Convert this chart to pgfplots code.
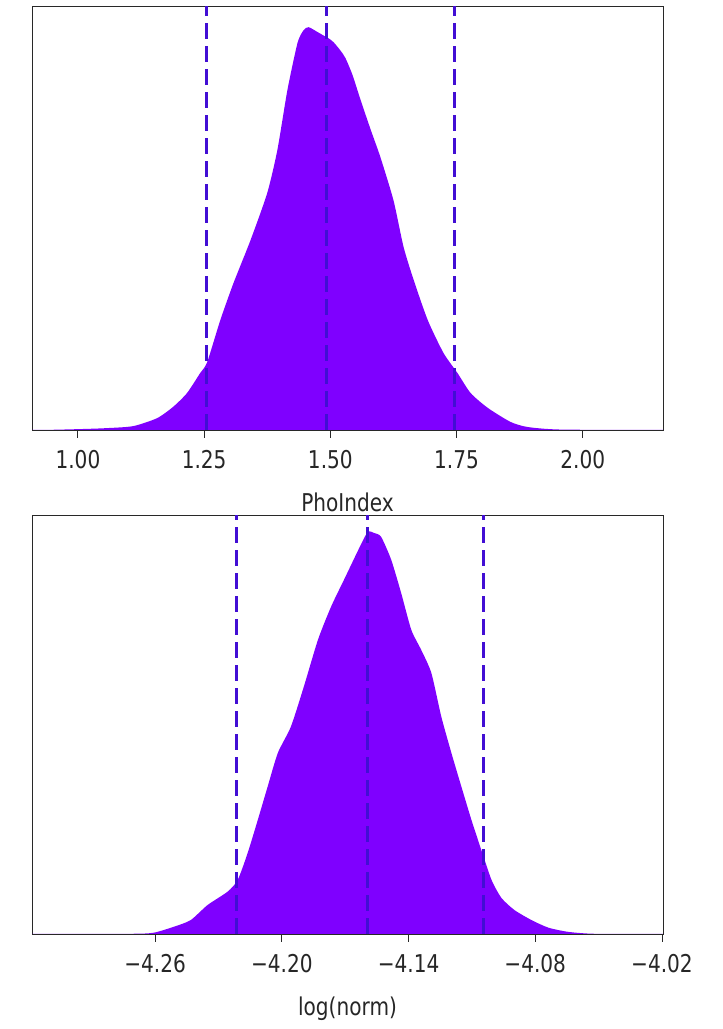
\documentclass[border=0pt]{standalone}
\usepackage{fontspec}
\setmainfont{DejaVu Sans}[FakeStretch=0.82]
\usepackage{pgfplots}
\pgfplotsset{compat=1.18}
\definecolor{fillv}{RGB}{127,0,255}
\definecolor{dashv}{RGB}{66,14,212}
\definecolor{framec}{RGB}{40,40,40}
\begin{document}
\begin{tikzpicture}[x=1bp,y=1bp]
\path (0,0) rectangle (723,1029);
\pgfplotsset{
  myax/.style={
    scale only axis, anchor=south west,
    width=631bp,
    ymin=0, ymax=1, ytick=\empty,
    axis line style={framec, line width=0.9bp},
    xtick pos=bottom, tick align=outside,
    major tick length=8bp,
    tick style={framec, line width=0.9bp},
    ticklabel style={font=\fontsize{24.5bp}{29bp}\selectfont, text=black!85},
    xticklabel style={yshift=-9bp},
    label style={font=\fontsize{24.5bp}{29bp}\selectfont, text=black!85},
    xlabel style={yshift=-17bp},
    clip=true,
  },
  dl/.style={dashv, line width=3bp, dash pattern=on 16bp off 7bp},
}
% Top axis
\begin{axis}[myax, at={(32bp,599bp)}, height=424bp,
  xmin=0.909, xmax=2.159,
  xtick={1,1.25,1.5,1.75,2}, xticklabels={1.00,1.25,1.50,1.75,2.00},
  xlabel={PhoIndex}]
\addplot[fill=fillv, draw=none, smooth, tension=0.4] coordinates {
(0.909,0) (0.95,0.0005) (1.00,0.002) (1.05,0.004) (1.109,0.009) (1.157,0.028)
(1.189,0.055) (1.216,0.087) (1.242,0.134) (1.256,0.160) (1.282,0.259)
(1.308,0.346) (1.342,0.448) (1.375,0.559) (1.395,0.660) (1.415,0.802)
(1.435,0.913) (1.447,0.943) (1.457,0.950) (1.474,0.939) (1.487,0.930)
(1.495,0.925) (1.506,0.915) (1.520,0.895) (1.530,0.877) (1.544,0.837)
(1.560,0.778) (1.580,0.708) (1.599,0.644) (1.625,0.542) (1.645,0.432)
(1.665,0.354) (1.693,0.259) (1.724,0.182) (1.752,0.134) (1.778,0.087)
(1.812,0.052) (1.857,0.019) (1.891,0.007) (1.957,0.001) (2.159,0)
} \closedcycle;
\addplot[dl] coordinates {(1.254,0) (1.254,1)};
\addplot[dl] coordinates {(1.492,0) (1.492,1)};
\addplot[dl] coordinates {(1.746,0) (1.746,1)};
\end{axis}
% Bottom axis
\begin{axis}[myax, at={(32bp,95bp)}, height=419bp,
  xmin=-4.3183, xmax=-4.0195,
  xtick={-4.26,-4.20,-4.14,-4.08,-4.02},
  xticklabels={−4.26,−4.20,−4.14,−4.08,−4.02},
  xlabel={log(norm)}]
\addplot[fill=fillv, draw=none, smooth, tension=0.4] coordinates {
(-4.3183,0) (-4.2717,0.0005) (-4.2608,0.003) (-4.2513,0.017) (-4.2432,0.033)
(-4.2352,0.069) (-4.2257,0.101) (-4.2209,0.129) (-4.2162,0.193) (-4.2114,0.272)
(-4.2067,0.352) (-4.2019,0.432) (-4.1957,0.495) (-4.1896,0.590) (-4.1829,0.702)
(-4.1767,0.781) (-4.1706,0.845) (-4.1625,0.930) (-4.1592,0.960) (-4.1563,0.957)
(-4.1530,0.948) (-4.1482,0.893) (-4.1435,0.814) (-4.1387,0.726) (-4.1340,0.678)
(-4.1292,0.623) (-4.1245,0.519) (-4.1197,0.432) (-4.1150,0.352) (-4.1102,0.272)
(-4.1055,0.200) (-4.1007,0.129) (-4.0960,0.086) (-4.0898,0.057) (-4.0817,0.033)
(-4.0737,0.015) (-4.0642,0.005) (-4.0518,0.0005) (-4.0195,0)
} \closedcycle;
\addplot[dl] coordinates {(-4.2214,0) (-4.2214,1)};
\addplot[dl] coordinates {(-4.1593,0) (-4.1593,1)};
\addplot[dl] coordinates {(-4.1047,0) (-4.1047,1)};
\end{axis}
\end{tikzpicture}
\end{document}
